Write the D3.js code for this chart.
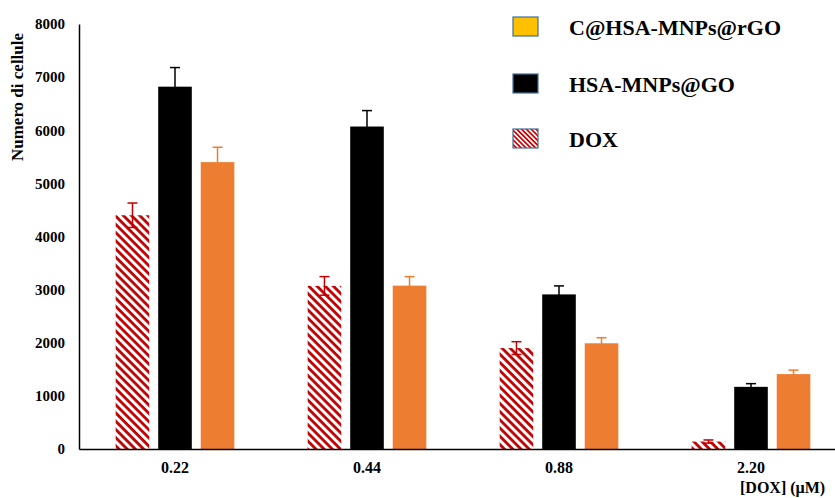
<!DOCTYPE html>
<html>
<head>
<meta charset="utf-8">
<script src="https://cdn.jsdelivr.net/npm/d3@7"></script>
<style>
  body { margin: 0; background: #fff; }
  svg text { font-family: "Liberation Serif", "DejaVu Serif", Times, serif !important; font-weight: bold; }
</style>
</head>
<body>
<div id="chart"></div>
<script>
// doses on the x axis
var doses = ["0.22", "0.44", "0.88", "2.20"];
// series, in bar order within each group
var seriesNames = ["DOX", "HSA-MNPs@GO", "C@HSA-MNPs@rGO"];
var doxValues = [4400, 3070, 1900, 140];
var doxErrors = [230, 175, 120, 30];
var goValues = [6820, 6070, 2910, 1170];
var goErrors = [360, 300, 160, 60];
var rgoValues = [5400, 3075, 1990, 1410];
var rgoErrors = [280, 170, 105, 75];
var yTicks = [0, 1000, 2000, 3000, 4000, 5000, 6000, 7000, 8000];
// legend order as shown in the picture
var legendNames = ["C@HSA-MNPs@rGO", "HSA-MNPs@GO", "DOX"];

var width = 835, height = 498;
var margin = {top: 24, right: -12, bottom: 49, left: 79};

var svg = d3.select("#chart").append("svg")
    .attr("width", width)
    .attr("height", height);

var defs = svg.append("defs");
var hatch = defs.append("pattern")
    .attr("id", "hatch")
    .attr("patternUnits", "userSpaceOnUse")
    .attr("width", 5.8)
    .attr("height", 5.8)
    .attr("patternTransform", "rotate(45)");
hatch.append("rect").attr("width", 5.8).attr("height", 5.8).attr("fill", "#fff");
hatch.append("rect").attr("width", 5.8).attr("height", 2.8).attr("fill", "#c00000");

var smallHatch = defs.append("pattern")
    .attr("id", "hatchSmall")
    .attr("patternUnits", "userSpaceOnUse")
    .attr("width", 3.4)
    .attr("height", 3.4)
    .attr("patternTransform", "rotate(45)");
smallHatch.append("rect").attr("width", 3.4).attr("height", 3.4).attr("fill", "#fff");
smallHatch.append("rect").attr("width", 3.4).attr("height", 1.7).attr("fill", "#d00000");

var fills = {"DOX": "url(#hatch)", "HSA-MNPs@GO": "#000", "C@HSA-MNPs@rGO": "#ed7d31"};
var errColors = {"DOX": "#c00000", "HSA-MNPs@GO": "#000", "C@HSA-MNPs@rGO": "#ed7d31"};
var legendFills = {"DOX": "url(#hatchSmall)", "HSA-MNPs@GO": "#000", "C@HSA-MNPs@rGO": "#ffc000"};

var values = {"DOX": doxValues, "HSA-MNPs@GO": goValues, "C@HSA-MNPs@rGO": rgoValues};
var errors = {"DOX": doxErrors, "HSA-MNPs@GO": goErrors, "C@HSA-MNPs@rGO": rgoErrors};

var x0 = d3.scaleBand()
    .domain(doses)
    .range([margin.left, width - margin.right])
    .paddingInner(0.382)
    .paddingOuter(0.191);

var x1 = d3.scaleBand()
    .domain(seriesNames)
    .range([0, x0.bandwidth()])
    .paddingInner(0.21);

var y = d3.scaleLinear()
    .domain([0, 8000])
    .range([height - margin.bottom, margin.top]);

var rows = [];
doses.forEach(function(d, i){
    seriesNames.forEach(function(s){
        rows.push({dose: d, series: s, value: values[s][i], err: errors[s][i]});
    });
});

// bars
svg.append("g").selectAll("rect")
    .data(rows)
    .enter()
    .append("rect")
        .attr("x", d => x0(d.dose) + x1(d.series))
        .attr("y", d => y(d.value))
        .attr("width", x1.bandwidth())
        .attr("height", d => y(0) - y(d.value))
        .attr("fill", d => fills[d.series]);

// error bars
var eb = svg.append("g").selectAll("g")
    .data(rows)
    .enter()
    .append("g")
        .attr("stroke", d => errColors[d.series])
        .attr("stroke-width", 1.5);
eb.append("line")
    .attr("x1", d => x0(d.dose) + x1(d.series) + x1.bandwidth() / 2)
    .attr("x2", d => x0(d.dose) + x1(d.series) + x1.bandwidth() / 2)
    .attr("y1", d => y(d.value - d.err))
    .attr("y2", d => y(d.value + d.err));
eb.append("line")
    .attr("x1", d => x0(d.dose) + x1(d.series) + x1.bandwidth() / 2 - 5)
    .attr("x2", d => x0(d.dose) + x1(d.series) + x1.bandwidth() / 2 + 5)
    .attr("y1", d => y(d.value + d.err))
    .attr("y2", d => y(d.value + d.err));
eb.append("line")
    .attr("x1", d => x0(d.dose) + x1(d.series) + x1.bandwidth() / 2 - 5)
    .attr("x2", d => x0(d.dose) + x1(d.series) + x1.bandwidth() / 2 + 5)
    .attr("y1", d => y(d.value - d.err))
    .attr("y2", d => y(d.value - d.err));

// y axis
var yAxis = svg.append("g")
    .attr("transform", "translate(" + margin.left + ",0)")
    .call(d3.axisLeft(y).tickValues(yTicks).tickSize(0).tickPadding(14).tickFormat(d3.format("d")));
yAxis.select(".domain").attr("stroke", "#000").attr("stroke-width", 1.5);
yAxis.selectAll("text")
    .attr("font-size", 15)
    .attr("fill", "#000");

// x axis
var xAxis = svg.append("g")
    .attr("transform", "translate(0," + y(0) + ")")
    .call(d3.axisBottom(x0).tickSize(0).tickPadding(12.5));
xAxis.select(".domain").attr("stroke", "#000").attr("stroke-width", 1.5);
xAxis.selectAll("text")
    .attr("font-size", 16)
    .attr("fill", "#000");

// axis titles
svg.append("text")
    .text("Numero di cellule")
    .attr("transform", "translate(23,97) rotate(-90)")
    .attr("text-anchor", "middle")
    .attr("font-size", 17)
    .attr("fill", "#000");

svg.append("text")
    .text("[DOX] (\u00b5M)")
    .attr("x", 740)
    .attr("y", 493)
    .attr("font-size", 16)
    .attr("fill", "#000");

// legend
var legend = svg.append("g").selectAll("g")
    .data(legendNames)
    .enter()
    .append("g")
        .attr("transform", (d, i) => "translate(513," + [17, 74, 129][i] + ")");
legend.append("rect")
    .attr("width", 25)
    .attr("height", 19)
    .attr("fill", d => legendFills[d])
    .attr("stroke", "#41719c")
    .attr("stroke-width", 1.2);
legend.append("text")
    .text(d => d)
    .attr("x", 56)
    .attr("y", 18)
    .attr("font-size", 22)
    .attr("fill", "#000");
</script>
</body>
</html>
